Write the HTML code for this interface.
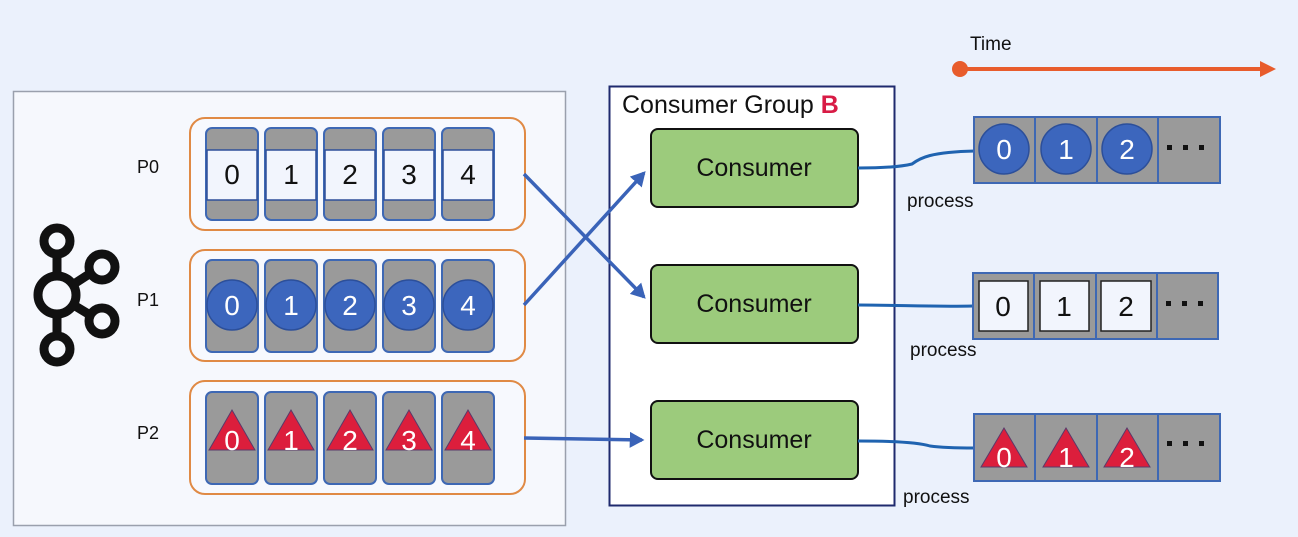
<!DOCTYPE html>
<html><head><meta charset="utf-8"><style>
html,body{margin:0;padding:0;background:#ebf1fc;}
svg{display:block;font-family:"Liberation Sans","DejaVu Sans",sans-serif;}
</style></head><body>
<svg width="1298" height="537" viewBox="0 0 1298 537" xmlns="http://www.w3.org/2000/svg">
<defs>
<marker id="ah" markerWidth="5" markerHeight="5" refX="3.5" refY="2.5" orient="auto" markerUnits="strokeWidth"><path d="M0,0.2 L4.2,2.5 L0,4.8 z" fill="#3a63b8"/></marker>
</defs>
<rect width="1298" height="537" fill="#ebf1fc"/>
<text x="970" y="50" font-size="19" fill="#111">Time</text>
<line x1="960" y1="69" x2="1262" y2="69" stroke="#e85c2c" stroke-width="4"/>
<circle cx="960" cy="69" r="8" fill="#e85c2c"/>
<path d="M1260,61 L1276,69 L1260,77 z" fill="#e85c2c"/>
<rect x="13.5" y="91.5" width="552" height="434" fill="#f6f8fd" stroke="#9aa0ad" stroke-width="1.5"/>
<g stroke="#111" stroke-width="9" fill="none">
<line x1="57" y1="252" x2="57" y2="338"/>
<line x1="57" y1="295" x2="100" y2="267"/>
<line x1="57" y1="295" x2="100" y2="321"/>
<circle cx="57" cy="295" r="19" fill="#f6f8fd"/>
<circle cx="57" cy="241" r="13" fill="#f6f8fd"/>
<circle cx="57" cy="349" r="13" fill="#f6f8fd"/>
<circle cx="102" cy="267" r="13" fill="#f6f8fd"/>
<circle cx="102" cy="321" r="13" fill="#f6f8fd"/>
</g>
<g font-size="18" fill="#111">
<text x="137" y="173">P0</text>
<text x="137" y="306">P1</text>
<text x="137" y="439">P2</text>
</g>
<g fill="#f7f9fe" stroke="#e08a45" stroke-width="2">
<rect x="190" y="118" width="335" height="112" rx="15"/>
<rect x="190" y="250" width="335" height="111" rx="15"/>
<rect x="190" y="381" width="335" height="113" rx="15"/>
</g>
<g fill="#9a9a9a" stroke="#3e68b4" stroke-width="2">
<rect x="206" y="128" width="52" height="92" rx="6"/><rect x="265" y="128" width="52" height="92" rx="6"/><rect x="324" y="128" width="52" height="92" rx="6"/><rect x="383" y="128" width="52" height="92" rx="6"/><rect x="442" y="128" width="52" height="92" rx="6"/>
<rect x="206" y="260" width="52" height="92" rx="6"/><rect x="265" y="260" width="52" height="92" rx="6"/><rect x="324" y="260" width="52" height="92" rx="6"/><rect x="383" y="260" width="52" height="92" rx="6"/><rect x="442" y="260" width="52" height="92" rx="6"/>
<rect x="206" y="392" width="52" height="92" rx="6"/><rect x="265" y="392" width="52" height="92" rx="6"/><rect x="324" y="392" width="52" height="92" rx="6"/><rect x="383" y="392" width="52" height="92" rx="6"/><rect x="442" y="392" width="52" height="92" rx="6"/>
</g>
<g fill="#f2f5fd" stroke="#2e4f9a" stroke-width="1.5">
<rect x="207" y="150" width="50" height="50"/><rect x="266" y="150" width="50" height="50"/><rect x="325" y="150" width="50" height="50"/><rect x="384" y="150" width="50" height="50"/><rect x="443" y="150" width="50" height="50"/>
</g>
<g font-size="28" fill="#111" text-anchor="middle">
<text x="232" y="184">0</text><text x="291" y="184">1</text><text x="350" y="184">2</text><text x="409" y="184">3</text><text x="468" y="184">4</text>
</g>
<g fill="#3c66bd" stroke="#2c4f9a" stroke-width="1.5">
<circle cx="232" cy="305" r="25"/><circle cx="291" cy="305" r="25"/><circle cx="350" cy="305" r="25"/><circle cx="409" cy="305" r="25"/><circle cx="468" cy="305" r="25"/>
</g>
<g font-size="28" fill="#fff" text-anchor="middle">
<text x="232" y="315">0</text><text x="291" y="315">1</text><text x="350" y="315">2</text><text x="409" y="315">3</text><text x="468" y="315">4</text>
</g>
<g fill="#dc1e3c" stroke="#5a3a6a" stroke-width="1">
<path d="M232,410 L255,450 L209,450z"/><path d="M291,410 L314,450 L268,450z"/><path d="M350,410 L373,450 L327,450z"/><path d="M409,410 L432,450 L386,450z"/><path d="M468,410 L491,450 L445,450z"/>
</g>
<g font-size="28" fill="#fff" text-anchor="middle">
<text x="232" y="450">0</text><text x="291" y="450">1</text><text x="350" y="450">2</text><text x="409" y="450">3</text><text x="468" y="450">4</text>
</g>
<rect x="609.5" y="86.5" width="285" height="419" fill="#fff" stroke="#1f2a6e" stroke-width="2"/>
<text x="622" y="113" font-size="25" fill="#111">Consumer Group <tspan fill="#d81b45" font-weight="bold">B</tspan></text>
<g fill="#9ccb7c" stroke="#111" stroke-width="2">
<rect x="651" y="129" width="207" height="78" rx="7"/>
<rect x="651" y="265" width="207" height="78" rx="7"/>
<rect x="651" y="401" width="207" height="78" rx="7"/>
</g>
<g font-size="25" fill="#111" text-anchor="middle">
<text x="754" y="176">Consumer</text>
<text x="754" y="312">Consumer</text>
<text x="754" y="448">Consumer</text>
</g>
<g stroke="#3a63b8" stroke-width="3.5" fill="none" marker-end="url(#ah)">
<line x1="524" y1="174" x2="644" y2="297"/>
<line x1="524" y1="305" x2="644" y2="173"/>
<line x1="524" y1="438" x2="642" y2="440"/>
</g>
<g stroke="#1f63b0" stroke-width="3" fill="none">
<path d="M858,168 C880,168 900,167 912,164 C920,158 930,152 975,151"/>
<path d="M858,305 C900,305 930,307 973,306"/>
<path d="M858,441 C900,441 920,443 930,446 C945,448 960,448 974,448"/>
</g>
<g font-size="19" fill="#111">
<text x="907" y="207">process</text>
<text x="910" y="356">process</text>
<text x="903" y="503">process</text>
</g>
<g fill="#9a9a9a" stroke="#3e68b4" stroke-width="2">
<rect x="974" y="117" width="61" height="66"/><rect x="1035" y="117" width="62" height="66"/><rect x="1097" y="117" width="61" height="66"/><rect x="1158" y="117" width="62" height="66"/>
<rect x="973" y="273" width="61" height="66"/><rect x="1034" y="273" width="62" height="66"/><rect x="1096" y="273" width="61" height="66"/><rect x="1157" y="273" width="61" height="66"/>
<rect x="974" y="414" width="61" height="67"/><rect x="1035" y="414" width="62" height="67"/><rect x="1097" y="414" width="61" height="67"/><rect x="1158" y="414" width="62" height="67"/>
</g>
<g fill="#3c66bd" stroke="#2c4f9a" stroke-width="1.5">
<circle cx="1004" cy="149" r="25"/><circle cx="1066" cy="149" r="25"/><circle cx="1127" cy="149" r="25"/>
</g>
<g font-size="28" fill="#fff" text-anchor="middle">
<text x="1004" y="159">0</text><text x="1066" y="159">1</text><text x="1127" y="159">2</text>
</g>
<g fill="#f2f5fd" stroke="#222" stroke-width="1.5">
<rect x="979" y="281" width="49" height="50"/><rect x="1040" y="281" width="49" height="50"/><rect x="1101" y="281" width="50" height="50"/>
</g>
<g font-size="28" fill="#111" text-anchor="middle">
<text x="1003" y="316">0</text><text x="1064" y="316">1</text><text x="1126" y="316">2</text>
</g>
<g fill="#dc1e3c" stroke="#5a3a6a" stroke-width="1">
<path d="M1004,428 L1027,467 L981,467z"/><path d="M1066,428 L1089,467 L1043,467z"/><path d="M1127,428 L1150,467 L1104,467z"/>
</g>
<g font-size="28" fill="#fff" text-anchor="middle">
<text x="1004" y="467">0</text><text x="1066" y="467">1</text><text x="1127" y="467">2</text>
</g>
<g fill="#111">
<rect x="1167" y="145" width="5" height="5"/><rect x="1183" y="145" width="5" height="5"/><rect x="1199" y="145" width="5" height="5"/>
<rect x="1166" y="301" width="5" height="5"/><rect x="1182" y="301" width="5" height="5"/><rect x="1198" y="301" width="5" height="5"/>
<rect x="1167" y="441" width="5" height="5"/><rect x="1183" y="441" width="5" height="5"/><rect x="1199" y="441" width="5" height="5"/>
</g>
</svg>
</body></html>
